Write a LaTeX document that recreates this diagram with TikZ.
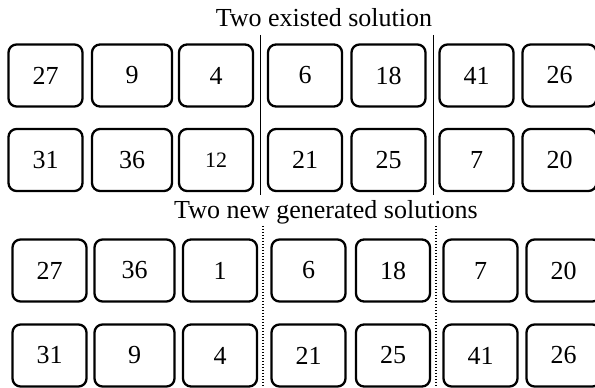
\documentclass[tikz,border=0pt]{standalone}
\usepackage{fontspec}
\setmainfont{Liberation Serif}
\usepackage{tikz}
\usetikzlibrary{positioning}
\usepackage{xcolor}
\definecolor{ink}{HTML}{000000}
\tikzset{
  base/.style={font=\fontsize{26}{30}\selectfont, text=ink},
  caption/.style={base, anchor=base},
  gene/.style={base, draw=ink, line width=2.3pt, rounded corners=8pt, minimum width=74pt, minimum height=62pt, inner sep=0pt},
  widegene/.style={gene, minimum width=80pt},
  cut/.style={draw=ink, line width=0.9pt},
  dottedcut/.style={draw=ink, line width=2pt, dash pattern=on 1.5pt off 1.5pt},
}

\begin{document}
\begin{tikzpicture}[x=1pt,y=1pt]
  \useasboundingbox (0,0) rectangle (595,388);

  \node[caption] (oldtitle) at (324,361) {Two existed solution};
  \node[caption] (newtitle) at (326,169) {Two new generated solutions};

  % existed solutions
  \node[gene] (oa1) at (45.5,312.5) {27};
  \node[widegene] (oa2) at (132,312.5) {9};
  \node[gene] (oa3) at (216,312.5) {4};
  \node[gene] (oa4) at (305,312.5) {6};
  \node[gene] (oa5) at (388.5,312.5) {18};
  \node[gene] (oa6) at (476.5,312.5) {41};
  \node[gene] (oa7) at (559.5,312.5) {26};

  \node[gene] (ob1) at (45.5,228) {31};
  \node[widegene] (ob2) at (132,228) {36};
  \node[gene,font=\fontsize{22}{26}\selectfont] (ob3) at (216,228) {12};
  \node[gene] (ob4) at (305,228) {21};
  \node[gene] (ob5) at (388.5,228) {25};
  \node[gene] (ob6) at (476.5,228) {7};
  \node[gene] (ob7) at (559.5,228) {20};

  % generated solutions
  \node[gene] (na1) at (49.5,117.5) {27};
  \node[widegene] (na2) at (134.5,117.5) {36};
  \node[gene] (na3) at (220,117.5) {1};
  \node[gene] (na4) at (308.5,117.5) {6};
  \node[gene] (na5) at (393,117.5) {18};
  \node[gene] (na6) at (480.5,117.5) {7};
  \node[gene] (na7) at (563.5,117.5) {20};

  \node[gene] (nb1) at (49.5,32.5) {31};
  \node[widegene] (nb2) at (134.5,32.5) {9};
  \node[gene] (nb3) at (220,32.5) {4};
  \node[gene] (nb4) at (308.5,32.5) {21};
  \node[gene] (nb5) at (393,32.5) {25};
  \node[gene] (nb6) at (480.5,32.5) {41};
  \node[gene] (nb7) at (563.5,32.5) {26};

  % crossover points
  \coordinate (cutA top) at (260,353);
  \coordinate (cutA bot) at (260,193);
  \coordinate (cutB top) at (433,353);
  \coordinate (cutB bot) at (433,193);
  \coordinate (dotA top) at (263,162);
  \coordinate (dotA bot) at (263,0);
  \coordinate (dotB top) at (436,162);
  \coordinate (dotB bot) at (436,0);

  \draw[cut] (cutA top) -- (cutA bot);
  \draw[cut] (cutB top) -- (cutB bot);
  \draw[dottedcut] (dotA top) -- (dotA bot);
  \draw[dottedcut] (dotB top) -- (dotB bot);
\end{tikzpicture}
\end{document}
